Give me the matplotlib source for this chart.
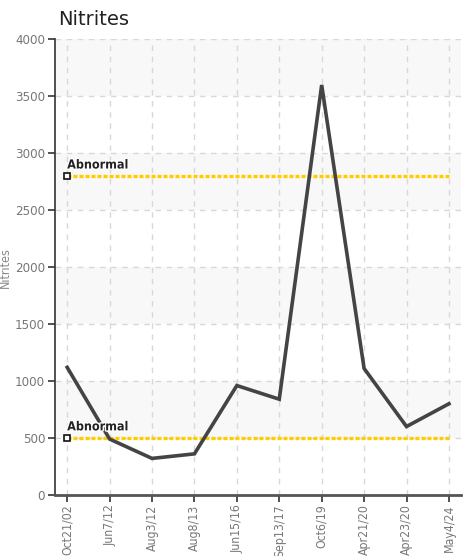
import matplotlib
matplotlib.use("Agg")
import matplotlib.pyplot as plt
import matplotlib.patheffects as pe

# data
dates = ["Oct21/02", "Jun7/12", "Aug3/12", "Aug8/13", "Jun15/16",
         "Sep13/17", "Oct6/19", "Apr21/20", "Apr23/20", "May4/24"]
nitrites = [1120, 490, 320, 360, 960, 840, 3600, 1110, 600, 800]
limits = [2800, 500]
limit_labels = ["Abnormal", "Abnormal"]
y_ticks = [0, 500, 1000, 1500, 2000, 2500, 3000, 3500, 4000]

plt.rcParams['font.family'] = ['DejaVu Sans']
plt.rcParams['font.stretch'] = 'condensed'

fig = plt.figure(figsize=(4.65, 5.56), dpi=100)
ax = fig.add_axes([0.118, 0.110, 0.873, 0.819])

x = list(range(len(dates)))

# alternating bands
for i in range(len(y_ticks) - 1):
    if i % 2 == 1:
        ax.axhspan(y_ticks[i], y_ticks[i + 1], color="#f8f8f8", zorder=0, lw=0)

ax.grid(True, color="#d8d8d8", linestyle=(0, (4, 4)), linewidth=1, zorder=1)
ax.set_axisbelow(True)

for lim, lab in zip(limits, limit_labels):
    ax.plot([x[0], x[-1]], [lim, lim], color="#ffcc00", linestyle=(0, (1.2, 0.6)),
            linewidth=2.4, zorder=2)
    ax.plot([x[0]], [lim], marker="s", markersize=4.5, markerfacecolor="white",
            markeredgecolor="#111111", markeredgewidth=1.2, zorder=4)
    ax.text(x[0], lim + 40, lab, fontsize=9, fontweight="bold",
            color="#222222", ha="left", va="bottom", zorder=5,
            path_effects=[pe.withStroke(linewidth=2, foreground="white")])

ax.plot(x, nitrites, color="#444444", linewidth=2.6, zorder=3,
        solid_joinstyle="miter")

ax.set_xlim(-0.29, len(dates) - 1 + 0.28)
ax.set_ylim(0, 4000)
ax.set_yticks(y_ticks)
ax.set_xticks(x)
ax.set_xticklabels(dates, rotation=90)

ax.tick_params(axis="both", colors="#333333", labelcolor="#777777", labelsize=9.5)
ax.tick_params(axis="x", length=5, width=1.2, labelsize=8.8, pad=2)
ax.tick_params(axis="y", length=5, width=1.2, pad=2)

for s in ["top", "right"]:
    ax.spines[s].set_visible(False)
ax.spines["left"].set_color("#333333")
ax.spines["left"].set_linewidth(1.2)
ax.spines["bottom"].set_color("#555555")
ax.spines["bottom"].set_linewidth(2)

ax.set_ylabel("Nitrites", color="#888888", fontsize=9)
ax.yaxis.set_label_coords(-0.106, 0.5)
fig.text(0.125, 0.965, "Nitrites", fontsize=14, color="#222222",
         ha="left", va="center", stretch="normal")

fig.savefig("out.png", dpi=100)
